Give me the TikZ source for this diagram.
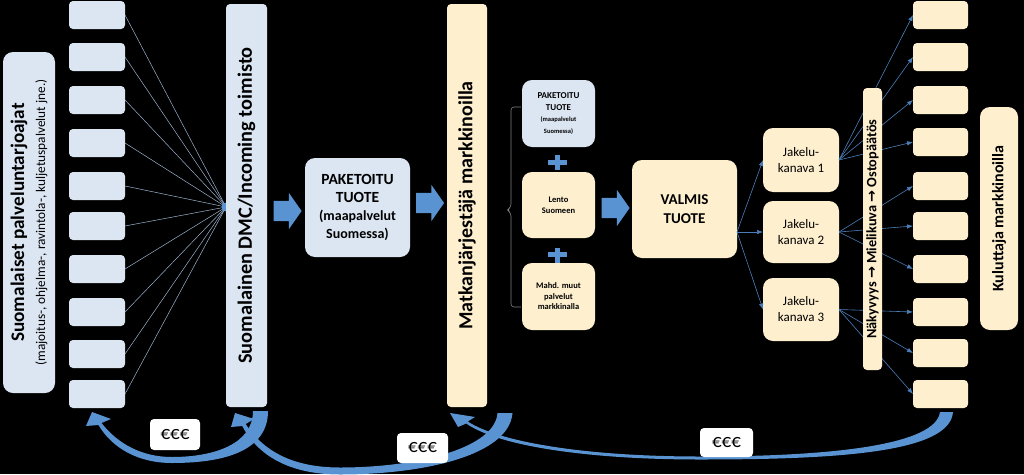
\documentclass[tikz,border=0pt]{standalone}
\usepackage{fontspec}
\setmainfont{Carlito}
\newfontfamily\symfont{DejaVu Sans}
\usetikzlibrary{shapes.arrows,arrows.meta}
\definecolor{boxblue}{HTML}{DCE6F2}
\definecolor{boxyel}{HTML}{FEF0CF}
\definecolor{arrowblue}{HTML}{5A93D1}
\definecolor{lineblue}{HTML}{4A7EBB}
\definecolor{fanblue}{HTML}{9DB3CF}
\begin{document}
\begin{tikzpicture}[x=1pt,y=-1pt,
  every node/.style={inner sep=0pt, outer sep=0pt, align=center},
  blubox/.style={fill=boxblue, rounded corners=4pt},
  ylwbox/.style={fill=boxyel, rounded corners=4pt},
  bigbox/.style={rounded corners=10pt},
  slot/.style={minimum width=56pt, minimum height=28pt},
  eurobox/.style={fill=white, rounded corners=4pt, font=\fontsize{19}{19}\selectfont},
  bigarrow/.style={single arrow, fill=arrowblue, inner xsep=0pt, inner ysep=10pt, minimum height=28pt,
    single arrow head extend=8pt, single arrow tip angle=110},
  ribbon/.style={fill=arrowblue},
  fanline/.style={draw=fanblue, line width=0.5pt},
  thinarrow/.style={draw=lineblue, line width=0.6pt, -{Latex[length=6pt,width=4.5pt]}}]
\fill[black] (0,0) rectangle (1024,474);
\useasboundingbox (0,0) rectangle (1024,474);
% palveluntarjoajat
\node[blubox, bigbox, rotate=90, minimum width=341pt, minimum height=52pt,
  font=\fontsize{19.2}{21}\selectfont\bfseries] (prov) at (29,222.5)
  {Suomalaiset palveluntarjoajat\\
   \fontsize{13.3}{14}\selectfont\mdseries (majoitus-, ohjelma-, ravintola-, kuljetuspalvelut jne.)};
\node[blubox, slot] (p1) at (97,15) {};
\node[blubox, slot] (p2) at (97,57) {};
\node[blubox, slot] (p3) at (97,100) {};
\node[blubox, slot] (p4) at (97,143) {};
\node[blubox, slot] (p5) at (97,186) {};
\node[blubox, slot] (p6) at (97,226) {};
\node[blubox, slot] (p7) at (97,269) {};
\node[blubox, slot] (p8) at (97,312) {};
\node[blubox, slot] (p9) at (97,354) {};
\node[blubox, slot] (p10) at (97,394) {};
% fan to DMC
\coordinate (hub) at (226,207);
\draw[fanline] (p1.east) -- (hub);
\draw[fanline] (p2.east) -- (hub);
\draw[fanline] (p3.east) -- (hub);
\draw[fanline] (p4.east) -- (hub);
\draw[fanline] (p5.east) -- (hub);
\draw[fanline] (p6.east) -- (hub);
\draw[fanline] (p7.east) -- (hub);
\draw[fanline] (p8.east) -- (hub);
\draw[fanline] (p9.east) -- (hub);
\draw[fanline] (p10.east) -- (hub);
\fill[arrowblue] (hub) circle (4.5pt);
\node[blubox, rotate=90, minimum width=403pt, minimum height=41pt,
  font=\fontsize{20.3}{22}\selectfont\bfseries] (dmc) at (246.5,205.5)
  {Suomalainen DMC/Incoming toimisto};
\node[bigarrow] (fa1) at (284,211) {};
\node[blubox, bigbox, minimum width=105pt, minimum height=99pt,
  font=\fontsize{15.5}{18}\selectfont\bfseries] (pak) at (357.5,207.5)
  {PAKETOITU\\TUOTE\\
   \fontsize{14}{16}\selectfont (maapalvelut\\\fontsize{14}{16}\selectfont Suomessa)};
\node[bigarrow] (fa2) at (426.5,203) {};
\node[ylwbox, rotate=90, minimum width=403pt, minimum height=40pt,
  font=\fontsize{20}{22}\selectfont\bfseries] (mj) at (467,205.5)
  {Matkanjärjestäjä markkinoilla};
% lisapalvelut
\draw[draw=gray, line width=0.6pt, rounded corners=3pt]
  (521,107) -- (511,107) -- (511,207) -- (507,210) -- (511,213) -- (511,307) -- (521,307);
\node[blubox, bigbox, minimum width=73pt, minimum height=67pt,
  font=\fontsize{9}{11.5}\selectfont\bfseries] (pak2) at (558.5,113.5)
  {PAKETOITU\\TUOTE\\
   \fontsize{6.5}{9}\selectfont (maapalvelut\\\fontsize{6.5}{9}\selectfont Suomessa)};
\node[ylwbox, bigbox, minimum width=73pt, minimum height=66pt,
  font=\fontsize{8.5}{11}\selectfont\bfseries] (lento) at (558.5,205)
  {Lento\\Suomeen};
\node[ylwbox, bigbox, minimum width=73pt, minimum height=67pt,
  font=\fontsize{8.5}{10.5}\selectfont\bfseries] (mahd) at (558.5,296.5)
  {Mahd. muut\\palvelut\\markkinalla};
\fill[arrowblue] (548,159.5) rectangle (567,164.5);
\fill[arrowblue] (555,155) rectangle (560,170);
\fill[arrowblue] (548,252) rectangle (567,257);
\fill[arrowblue] (555,247.5) rectangle (560,262.5);
\node[bigarrow] (fa3) at (612,208) {};
\node[ylwbox, bigbox, minimum width=105pt, minimum height=98pt,
  font=\fontsize{15}{19}\selectfont\bfseries] (valmis) at (684.5,209)
  {VALMIS\\TUOTE};
% jakelukanavat
\node[ylwbox, bigbox, minimum width=76pt, minimum height=64pt,
  font=\fontsize{13}{16}\selectfont] (jk1) at (801,160) {Jakelu-\\kanava 1};
\node[ylwbox, bigbox, minimum width=76pt, minimum height=62pt,
  font=\fontsize{13}{16}\selectfont] (jk2) at (801,232) {Jakelu-\\kanava 2};
\node[ylwbox, bigbox, minimum width=76pt, minimum height=63pt,
  font=\fontsize{13}{16}\selectfont] (jk3) at (801,309.5) {Jakelu-\\kanava 3};
\coordinate (vs) at (737,232);
\draw[thinarrow] (vs) -- (jk1.west);
\draw[thinarrow] (vs) -- (jk2.west);
\draw[thinarrow] (vs) -- (jk3.west);
% kuluttajat
\node[ylwbox, slot, minimum width=55pt] (r1) at (940.5,15) {};
\node[ylwbox, slot, minimum width=55pt] (r2) at (940.5,57) {};
\node[ylwbox, slot, minimum width=55pt] (r3) at (940.5,100) {};
\node[ylwbox, slot, minimum width=55pt] (r4) at (940.5,142) {};
\node[ylwbox, slot, minimum width=55pt] (r5) at (940.5,186) {};
\node[ylwbox, slot, minimum width=55pt] (r6) at (940.5,226) {};
\node[ylwbox, slot, minimum width=55pt] (r7) at (940.5,269) {};
\node[ylwbox, slot, minimum width=55pt] (r8) at (940.5,312) {};
\node[ylwbox, slot, minimum width=55pt] (r9) at (940.5,353) {};
\node[ylwbox, slot, minimum width=55pt] (r10) at (940.5,394) {};
\draw[thinarrow] (jk1.east) -- (r1.west);
\draw[thinarrow] (jk1.east) -- (r2.west);
\draw[thinarrow] (jk1.east) -- (r3.west);
\draw[thinarrow] (jk1.east) -- (r4.west);
\draw[thinarrow] (jk2.east) -- (r5.west);
\draw[thinarrow] (jk2.east) -- (r6.west);
\draw[thinarrow] (jk2.east) -- (r7.west);
\draw[thinarrow] (jk3.east) -- (r8.west);
\draw[thinarrow] (jk3.east) -- (r9.west);
\draw[thinarrow] (jk3.east) -- (r10.west);
\node[ylwbox, rotate=90, minimum width=282pt, minimum height=19pt,
  font=\fontsize{14.3}{16}\selectfont\bfseries] (nak) at (872.5,229)
  {Näkyvyys {\symfont →} Mielikuva {\symfont →} Ostopäätös};
\node[ylwbox, bigbox, rotate=90, minimum width=223pt, minimum height=38pt,
  font=\fontsize{16}{18}\selectfont\bfseries] (kul) at (999,218.5)
  {Kuluttaja markkinoilla};
% rahavirrat
\fill[ribbon] (253,411) .. controls (253,444) and (214,457) .. (172,457)
  .. controls (142,457) and (118,444) .. (101.5,423)
  -- (111,419) -- (92,412) -- (86,426) -- (98.5,425)
  .. controls (112,448) and (138,463) .. (172,463)
  .. controls (222,463) and (268,452) .. (268,411) -- cycle;
\fill[ribbon] (497.5,413) .. controls (495,448) and (418,467.5) .. (340,467.5)
  .. controls (294,467.5) and (264,452) .. (245.7,424)
  -- (254,419) -- (235,413) -- (231,427) -- (242.3,426)
  .. controls (258,456) and (290,474.5) .. (340,474.5)
  .. controls (422,474.5) and (509,456) .. (512.5,413) -- cycle;
\fill[ribbon] (940,412) .. controls (936,444) and (838,456.5) .. (700,456.5)
  .. controls (590,456.5) and (501,443) .. (467.7,421.5)
  -- (475,417) -- (450,413) -- (458,427) -- (466.3,423.5)
  .. controls (499,446.5) and (590,459.5) .. (700,459.5)
  .. controls (842,459.5) and (950,452) .. (953,412) -- cycle;
\node[eurobox, minimum width=50pt, minimum height=31pt] (e1) at (175,434.5) {€€€};
\node[eurobox, minimum width=51pt, minimum height=30pt] (e2) at (422.5,448) {€€€};
\node[eurobox, minimum width=53pt, minimum height=29pt] (e3) at (726.5,442.5) {€€€};
\end{tikzpicture}
\end{document}
